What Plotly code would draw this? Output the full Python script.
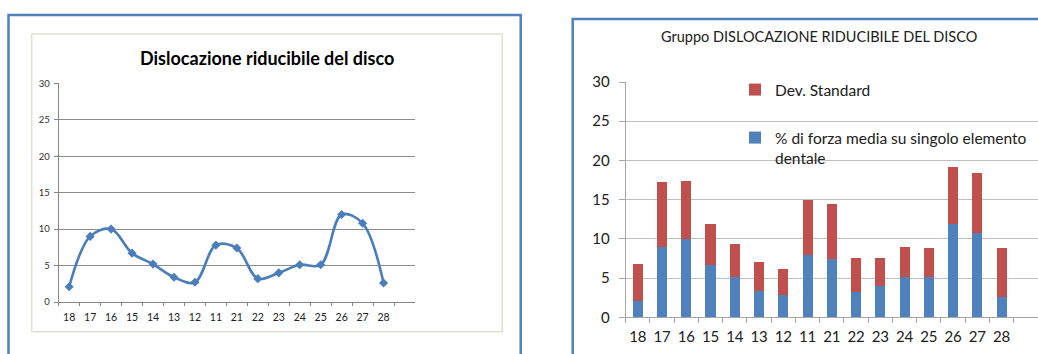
import plotly.graph_objects as go

W, H = 1038, 354

# ---- data ----
teeth = ["18", "17", "16", "15", "14", "13", "12", "11", "21", "22", "23", "24", "25", "26", "27", "28"]
serie1 = [2.1, 9.0, 10.0, 6.7, 5.2, 3.4, 2.7, 7.8, 7.4, 3.2, 4.0, 5.1, 5.1, 12.0, 10.8, 2.6]
forza_media = [2.1, 9.0, 10.0, 6.7, 5.2, 3.4, 2.8, 7.9, 7.4, 3.2, 4.0, 5.1, 5.1, 11.9, 10.7, 2.6]
dev_standard = [4.7, 8.3, 7.35, 5.2, 4.1, 3.65, 3.4, 7.1, 7.0, 4.3, 3.55, 3.85, 3.75, 7.2, 7.75, 6.2]
y_ticks = [0, 5, 10, 15, 20, 25, 30]
left_title = "Dislocazione riducibile del disco"
right_title = "Gruppo DISLOCAZIONE RIDUCIBILE DEL DISCO"

cats = teeth + [" "]


def px(x):
    return x / W


def py(y):
    return 1 - y / H


BLUE = "#4F81BD"
RED = "#C0504D"
LINE = "#4A7EBB"
FONT = "Lato"

fig = go.Figure()

fig.add_trace(go.Scatter(
    x=teeth, y=serie1, mode="lines+markers", name="Serie 1",
    line=dict(color=LINE, width=2.6, shape="spline", smoothing=1.0),
    marker=dict(symbol="diamond", size=7, color=LINE),
    xaxis="x", yaxis="y", legend="legend",
))

fig.add_trace(go.Bar(
    x=teeth, y=forza_media, name="% di forza media su singolo elemento<br>dentale",
    marker=dict(color=BLUE, line=dict(width=0)), xaxis="x2", yaxis="y2", legend="legend3",
))
fig.add_trace(go.Bar(
    x=teeth, y=dev_standard, name="Dev. Standard",
    marker=dict(color=RED, line=dict(width=0)), xaxis="x2", yaxis="y2", legend="legend2",
))

shapes = [
    dict(type="rect", xref="paper", yref="paper", x0=px(8.5), x1=px(520.7), y0=py(15), y1=py(380),
         line=dict(color=BLUE, width=2.5)),
    dict(type="rect", xref="paper", yref="paper", x0=px(31.7), x1=px(502.3), y0=py(34), y1=py(331.7),
         line=dict(color="#E3E0CF", width=1.5)),
    dict(type="rect", xref="paper", yref="paper", x0=px(572.7), x1=px(1060), y0=py(19), y1=py(380),
         line=dict(color=BLUE, width=2.5)),
]

annotations = [
    dict(text="<b>" + left_title + "</b>", xref="paper", yref="paper", x=px(266.5), y=py(58),
         xanchor="center", yanchor="middle", showarrow=False,
         font=dict(family=FONT, size=18, color="#000000")),
    dict(text=right_title, xref="paper", yref="paper", x=px(819), y=py(37),
         xanchor="center", yanchor="middle", showarrow=False,
         font=dict(family=FONT, size=14.5, color="#202020")),
]

fig.update_layout(
    width=W, height=H, margin=dict(l=0, r=0, t=0, b=0, autoexpand=False),
    paper_bgcolor="white", plot_bgcolor="white",
    barmode="stack", bargap=0.58,
    font=dict(family=FONT, color="#202020"),
    shapes=shapes, annotations=annotations,
    xaxis=dict(domain=[px(58.7), px(415)], type="category", categoryorder="array", categoryarray=cats,
               range=[-0.5, 16.5], tickson="boundaries", ticks="outside", ticklen=3, tickcolor="#868686",
               showline=True, linecolor="#868686", linewidth=1, showgrid=False, zeroline=False,
               tickfont=dict(size=10.5, color="#202020"), anchor="y", tickangle=0, ticklabelstandoff=5,
               automargin=False),
    yaxis=dict(domain=[py(302), py(83.3)], range=[0, 30], tickvals=y_ticks, ticks="outside", ticklen=4,
               tickcolor="#868686", showline=True, linecolor="#868686", showgrid=True, gridcolor="#8C8C8C",
               gridwidth=1, zeroline=False, tickfont=dict(size=9.5, color="#303030"), anchor="x",
               ticklabelstandoff=2, automargin=False),
    xaxis2=dict(domain=[px(625.7), 1.0], type="category", categoryorder="array", categoryarray=cats,
                range=[-0.5, 16.5], tickson="boundaries", ticks="outside", ticklen=5, tickcolor="#A6A6A6",
                showline=True, linecolor="#A6A6A6", linewidth=1, showgrid=False, zeroline=False,
                tickfont=dict(size=15, color="#202020"), anchor="y2", tickangle=0, ticklabelstandoff=6,
                automargin=False),
    yaxis2=dict(domain=[py(317.3), py(82)], range=[0, 30], tickvals=y_ticks, ticks="outside", ticklen=6,
                tickcolor="#A6A6A6", showline=True, linecolor="#A6A6A6", showgrid=True, gridcolor="#BEBEBE",
                gridwidth=1, zeroline=False, tickfont=dict(size=15, color="#202020"), anchor="x2",
                ticklabelstandoff=6, automargin=False),
    legend=dict(x=px(421), y=py(201.7), xanchor="left", yanchor="middle", bgcolor="rgba(0,0,0,0)",
                font=dict(family=FONT, size=9.5, color="#202020"), borderwidth=0),
    legend2=dict(x=px(735), y=py(90), xanchor="left", yanchor="middle", bgcolor="rgba(0,0,0,0)",
                 font=dict(family=FONT, size=15.5, color="#202020"), borderwidth=0, itemwidth=30),
    legend3=dict(x=px(735), y=py(121), xanchor="left", yanchor="top", bgcolor="rgba(0,0,0,0)",
                 font=dict(family=FONT, size=15.5, color="#202020"), borderwidth=0, itemwidth=30,
                 valign="top"),
)

fig.write_html("out.html")
